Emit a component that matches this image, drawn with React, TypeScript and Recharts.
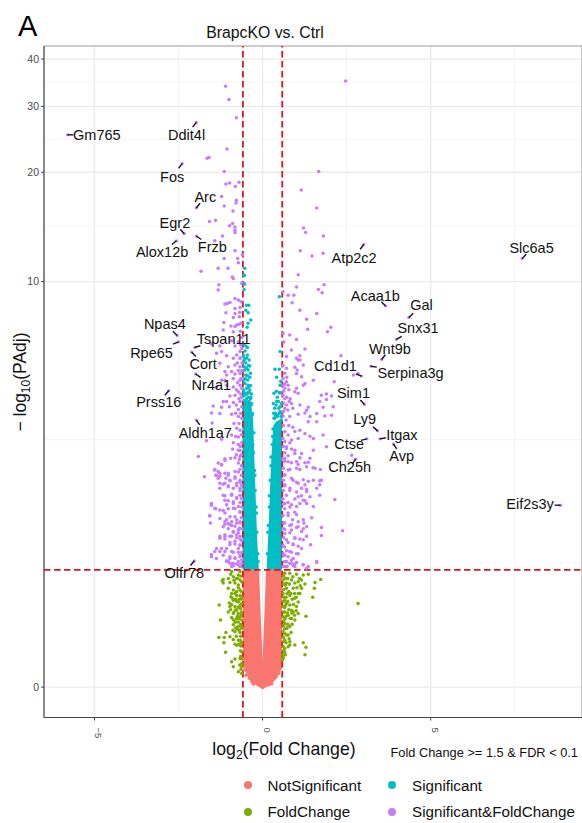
import {
  ComposedChart,
  Area,
  Scatter,
  XAxis,
  YAxis,
  CartesianGrid,
  ReferenceLine,
  ReferenceArea,
  Legend,
} from 'recharts';

const FONT = '"Liberation Sans", Arial, sans-serif';

const seriesNames = ['NotSignificant', 'Significant', 'FoldChange', 'Significant&FoldChange'];
const seriesColors = ['#F8766D', '#00BFC4', '#7CAE00', '#C77CFF'];

const xTicks = [-5, 0, 5];
const yTicks = [0, 10, 20, 30, 40];
const xMinor = [-2.5, 2.5, 7.5];
const yMinor = [3.32, 14.3, 24.5, 34.8];

// dense part of the cloud, read as an envelope (x, lower, upper)
const notSigX = [-0.58, -0.53, -0.38, -0.16, -0.1, -0.08, -0.06, -0.04, -0.02, 0, 0.02, 0.04, 0.06, 0.08, 0.1, 0.22, 0.42, 0.58];
const notSigLow = [0.17, 0.106, 0.042, 0.006, 0, -0.003, -0.006, -0.009, -0.011, -0.013, -0.011, -0.009, -0.006, -0.003, 0, 0.006, 0.054, 0.12];
const notSigHigh = [1, 1, 1, 1, 1, 0.74, 0.576, 0.426, 0.297, 0.16, 0.297, 0.426, 0.576, 0.74, 1, 1, 1, 1];

const sigLeftX = [-0.6, -0.35, -0.28, -0.25, -0.2, -0.16, -0.11];
const sigLeftHigh = [4.5, 4.4, 3.85, 3.0, 2.0, 1.4, 1.0];
const sigRightX = [0.12, 0.19, 0.22, 0.27, 0.32, 0.4, 0.58];
const sigRightHigh = [1.0, 1.69, 2.2, 3.0, 3.7, 3.8, 3.9];

const notSigPoints = [
  [-0.55, 0.106], [-0.49, 0.073], [-0.39, 0.053], [-0.32, 0.032], [-0.27, 0.018],
  [0.4, 0.063], [0.47, 0.084], [0.27, 0.018],
];

const sigPoints = [
  [-0.56, 10.45], [-0.53, 9.85], [-0.53, 10.9], [-0.54, 10.4], [-0.55, 9.5], [-0.48, 8.57], [-0.41, 8.57],
  [-0.5, 8.29], [-0.43, 8.15], [-0.35, 7.76], [-0.43, 7.6], [-0.46, 7.4], [-0.5, 6.52], [-0.45, 6.13],
  [-0.4, 5.92], [-0.53, 5.99], [-0.38, 5.68], [-0.55, 5.65], [-0.43, 5.52], [-0.5, 5.33], [-0.38, 5.25],
  [-0.52, 5.02], [-0.41, 4.9], [-0.56, 4.79], [-0.33, 4.66], [-0.46, 4.52], [-0.53, 5.52], [-0.56, 5.14],
  [-0.43, 4.96], [-0.38, 4.79], [-0.5, 4.68], [-0.4, 4.41], [-0.33, 4.35], [-0.53, 4.41], [-0.46, 4.25],
  [-0.38, 4.14], [-0.56, 4.19], [-0.3, 4.04], [-0.33, 3.6], [-0.29, 3.2], [-0.24, 2.6], [-0.19, 1.9],
  [-0.26, 3.5], [-0.27, 3.0], [-0.23, 2.5], [-0.22, 2.2], [-0.18, 1.8], [-0.17, 1.5], [-0.14, 1.2], [-0.13, 1.1],
  [-0.31, 4.0], [-0.34, 4.3], [-0.36, 4.5], [-0.55, 4.6], [-0.48, 4.65], [-0.42, 4.55],
  [-0.55, 4.7], [-0.47, 4.85], [-0.4, 4.7], [-0.52, 5.2], [-0.45, 5.3], [-0.48, 5.6], [-0.42, 5.7], [-0.55, 5.9],
  [-0.47, 6.0], [-0.5, 5.8], [-0.44, 5.15], [-0.36, 4.95], [-0.35, 4.55], [-0.57, 6.1], [-0.52, 6.3], [-0.45, 6.45],
  [-0.56, 6.6], [-0.5, 4.45], [-0.44, 4.7], [-0.36, 5.4],
  [0.5, 9.05], [0.52, 6.27], [0.37, 5.55], [0.5, 5.55], [0.42, 5.25], [0.52, 4.96], [0.34, 4.68],
  [0.52, 4.7], [0.42, 4.41], [0.32, 4.35], [0.52, 4.25], [0.47, 4.41], [0.4, 4.3], [0.34, 3.9],
  [0.56, 3.85], [0.3, 3.4], [0.25, 2.9], [0.2, 2.1], [0.16, 1.5], [0.14, 1.2], [0.17, 1.6], [0.2, 1.9],
  [0.23, 2.4], [0.25, 2.7], [0.29, 3.2], [0.31, 3.6], [0.36, 3.9], [0.44, 3.95], [0.5, 4.05], [0.55, 3.95],
  [0.45, 4.0], [0.38, 4.05], [0.52, 4.1], [0.56, 4.35], [0.48, 4.2], [0.36, 4.2], [0.44, 4.55], [0.5, 4.7],
  [0.54, 5.1], [0.41, 4.75], [0.38, 3.98], [0.33, 4.05],
];

const foldPoints = [
  [-1.17, 0.89], [-1.2, 0.876], [-1.17, 0.85], [-1.02, 0.9], [-0.87, 0.92], [-0.72, 0.94], [-0.67, 0.883],
  [-0.97, 0.855], [-0.82, 0.85], [-0.72, 0.83], [-0.62, 0.865], [-0.87, 0.775], [-0.67, 0.775], [-0.92, 0.74],
  [-0.77, 0.72], [-0.62, 0.705], [-0.87, 0.672], [-0.72, 0.655], [-0.62, 0.64], [-0.97, 0.61], [-0.82, 0.61],
  [-0.65, 0.59], [-1.29, 0.625], [-1.02, 0.56], [-0.87, 0.546], [-0.72, 0.546], [-0.92, 0.51], [-0.77, 0.5],
  [-0.62, 0.486], [-1.25, 0.486], [-0.87, 0.445], [-0.72, 0.43], [-0.62, 0.415], [-0.82, 0.387], [-0.67, 0.38],
  [-1.09, 0.38], [-0.97, 0.347], [-1.3, 0.34], [-1.14, 0.34], [-0.87, 0.325], [-0.72, 0.32], [-1.15, 0.3],
  [-0.82, 0.288], [-0.65, 0.275], [-0.62, 0.232], [-1.1, 0.228], [-0.67, 0.185], [-0.82, 0.18], [-0.92, 0.162],
  [-0.87, 0.127], [-0.62, 0.127], [-0.72, 0.095], [-0.62, 0.084], [-0.77, 0.76], [-1.02, 0.795], [-0.94, 0.705],
  [-0.82, 0.47], [-0.69, 0.68], [-0.99, 0.645], [-0.77, 0.576], [-0.62, 0.56], [-0.67, 0.98], [-0.92, 0.98],
  [-0.72, 0.8], [-0.82, 0.74], [-0.67, 0.72], [-0.9, 0.69], [-0.77, 0.66], [-0.67, 0.62], [-0.92, 0.63],
  [-0.8, 0.58], [-0.68, 0.6], [-0.95, 0.58], [-0.75, 0.52], [-0.65, 0.52], [-0.87, 0.49], [-0.72, 0.47],
  [-0.65, 0.45], [-0.8, 0.42], [-0.7, 0.4], [-0.65, 0.35], [-0.78, 0.35], [-0.7, 0.29], [-0.62, 0.3],
  [-0.66, 0.24], [-0.62, 0.18], [-0.62, 0.15], [-0.64, 0.11], [-0.95, 0.95], [-0.78, 0.9], [-0.65, 0.93], [-0.85, 0.88],
  [-0.74, 0.9], [-0.63, 0.76], [-0.8, 0.68], [-0.63, 0.68], [-0.72, 0.6], [-0.85, 0.56], [-0.63, 0.54], [-0.7, 0.5],
  [-0.8, 0.47], [-0.63, 0.43], [-0.75, 0.41], [-0.88, 0.4], [-0.66, 0.32], [-0.76, 0.28], [-0.65, 0.2], [-0.68, 0.14],
  [0.66, 0.96], [0.81, 0.96], [1.01, 0.95], [1.21, 0.94], [1.36, 0.95], [0.61, 0.883], [0.86, 0.883],
  [1.06, 0.865], [1.16, 0.883], [1.26, 0.84], [0.71, 0.795], [0.91, 0.795], [1.16, 0.795], [0.61, 0.74],
  [0.81, 0.72], [1.06, 0.74], [0.66, 0.672], [0.96, 0.69], [1.06, 0.655], [0.61, 0.61], [0.81, 0.625],
  [1.01, 0.61], [0.66, 0.56], [0.91, 0.56], [1.06, 0.546], [0.61, 0.515], [0.86, 0.5], [0.96, 0.486],
  [0.66, 0.458], [0.81, 0.43], [0.61, 0.387], [0.76, 0.36], [0.66, 0.32], [0.81, 0.307], [0.96, 0.283],
  [1.29, 0.52], [1.56, 0.855], [1.73, 0.89], [1.54, 0.795], [1.49, 0.7], [1.21, 0.3], [1.29, 0.265],
  [1.26, 0.21], [0.66, 0.257], [0.61, 0.21], [0.59, 0.173], [0.71, 0.64], [0.76, 0.53], [0.86, 0.576],
  [0.71, 0.415], [0.71, 0.85], [0.96, 0.85], [1.11, 0.74], [0.81, 0.283], [2.84, 0.64],
  [0.63, 0.93], [0.75, 0.9], [0.9, 0.92], [1.1, 0.9], [0.68, 0.83], [0.8, 0.84], [1.02, 0.8], [1.12, 0.82],
  [0.63, 0.78], [0.78, 0.76], [0.95, 0.74], [0.7, 0.7], [0.88, 0.68], [1.0, 0.7], [0.62, 0.66], [0.75, 0.66],
  [0.92, 0.63], [0.66, 0.6], [0.78, 0.58], [1.0, 0.57], [0.7, 0.52], [0.82, 0.5], [0.95, 0.53], [0.63, 0.48],
  [0.75, 0.45], [0.88, 0.45], [0.65, 0.41], [0.72, 0.36], [0.85, 0.38], [0.62, 0.34], [0.7, 0.3], [0.76, 0.27],
  [0.62, 0.27], [0.62, 0.24], [0.68, 0.21], [0.62, 0.19],
  [0.68, 0.9], [0.63, 0.84], [0.73, 0.74], [0.63, 0.7], [0.84, 0.74], [0.68, 0.62], [0.63, 0.56], [0.74, 0.55],
  [0.87, 0.55], [0.67, 0.5], [0.73, 0.42], [0.63, 0.44], [0.79, 0.33], [0.66, 0.37], [0.63, 0.31], [0.66, 0.23],
];

const bothPoints = [
  // upper left
  [-1.1, 33.9], [-1.0, 31.3], [-0.78, 28.0], [-1.06, 23.1], [-1.65, 21.8], [-1.59, 21.9], [-1.14, 20.1],
  [-1.09, 18.6], [-0.98, 18.7], [-0.81, 18.3], [-0.7, 18.8], [-1.22, 17.2], [-0.78, 16.8], [-0.79, 16.5],
  [-1.14, 16.2], [-0.88, 15.7], [-1.58, 14.7], [-1.4, 14.8], [-0.89, 14.5], [-0.98, 14.3], [-0.82, 14.2],
  [-0.82, 13.9], [-0.82, 13.7], [-1.19, 13.4], [-1.42, 13.0], [-0.82, 12.2], [-0.6, 11.9], [-1.14, 11.6],
  [-0.74, 11.6], [-0.72, 11.3], [-1.32, 10.9], [-1.03, 10.9],
  // upper right
  [2.47, 35.0], [1.67, 20.1], [1.15, 17.9], [1.61, 16.0], [1.22, 14.1], [1.28, 13.7], [1.81, 13.4],
  [1.12, 12.2], [1.47, 11.8], [1.8, 12.0],
  // left, 4 to 10
  [-1.83, 10.7], [-1.3, 9.8], [-1.32, 9.46], [-0.9, 10.3], [-0.87, 10.2], [-0.62, 9.9], [-0.82, 8.95],
  [-0.72, 8.86], [-0.97, 8.72], [-1.12, 8.63], [-1.05, 8.67], [-0.64, 8.76], [-1.09, 8.15], [-0.82, 8.38],
  [-0.67, 8.44], [-0.82, 8.11], [-0.68, 8.17], [-0.87, 7.89], [-0.69, 7.94], [-1.15, 7.63], [-0.77, 7.51],
  [-0.7, 7.55], [-0.64, 7.6], [-0.94, 7.46], [-0.82, 7.43], [-1.17, 7.26], [-0.87, 7.18], [-1.52, 6.6],
  [-1.27, 6.52], [-0.92, 6.75], [-0.72, 6.7], [-0.82, 6.52], [-0.65, 6.56], [-1.22, 6.27], [-1.37, 6.2],
  [-0.67, 6.27], [-0.77, 6.13], [-1.07, 6.09], [-0.87, 5.99], [-0.67, 5.99], [-1.27, 5.79], [-1.02, 5.65],
  [-0.82, 5.72], [-0.67, 5.65], [-1.12, 5.46], [-0.92, 5.46], [-1.07, 5.33], [-0.82, 5.37], [-0.67, 5.39],
  [-1.22, 5.14], [-1.12, 5.14], [-0.87, 5.2], [-0.67, 5.14], [-1.37, 4.9], [-1.07, 4.96], [-0.87, 4.9],
  [-0.67, 4.96], [-0.72, 4.73], [-0.97, 4.59], [-0.82, 4.62], [-0.65, 4.66], [-1.47, 4.27], [-1.22, 4.23],
  [-1.07, 4.41], [-0.87, 4.38], [-0.67, 4.41], [-1.52, 4.06], [-1.27, 4.04], [-0.92, 4.02], [-0.72, 4.16],
  [-0.65, 4.04], [-1.17, 4.41], [-0.99, 4.25], [-0.72, 3.95],
  [-0.62, 6.9], [-0.66, 7.2], [-0.62, 6.4], [-0.66, 6.0], [-0.61, 5.8], [-0.75, 5.8], [-0.72, 5.5], [-0.62, 5.5],
  [-0.64, 5.2], [-0.74, 5.05], [-0.62, 4.85], [-0.78, 4.8], [-0.62, 4.55], [-0.7, 4.5], [-0.78, 4.3], [-0.62, 4.25],
  [-0.8, 4.05], [-0.62, 3.9],
  // right, 4 to 10
  [1.06, 10.45], [1.83, 9.8], [1.01, 9.65], [1.66, 9.5], [1.77, 9.3], [0.76, 9.15], [0.93, 9.15], [0.61, 9.36],
  [0.88, 8.7], [1.11, 8.29], [1.61, 8.11], [1.31, 7.8], [2.03, 7.4], [1.93, 7.18], [1.34, 7.3], [0.61, 7.1],
  [0.81, 7.02], [0.63, 6.7], [1.01, 6.81], [1.26, 6.38], [0.71, 6.06], [1.01, 5.99], [1.11, 6.09], [1.06, 5.92],
  [0.86, 6.34], [1.11, 5.92], [0.96, 5.63], [1.03, 5.52], [1.21, 5.72], [0.71, 5.59], [1.16, 5.27], [1.26, 5.02],
  [1.21, 4.96], [1.51, 5.14], [1.01, 5.39], [0.71, 5.08], [0.61, 4.96], [0.76, 4.96], [0.66, 4.85], [1.01, 4.85],
  [0.96, 4.73], [1.06, 4.68], [0.61, 4.62], [0.79, 4.41], [0.71, 4.3], [0.66, 4.19], [0.86, 4.35], [1.11, 4.3],
  [1.36, 4.23], [1.26, 4.06], [1.31, 4.14], [1.75, 4.62], [1.9, 4.66], [2.05, 4.59], [1.9, 4.48], [1.7, 4.41],
  [1.8, 4.23], [2.1, 4.25], [1.85, 3.97], [2.05, 3.99], [2.13, 5.08], [2.33, 6.09], [2.7, 5.33], [2.84, 5.39],
  [1.41, 3.95], [0.61, 3.97], [0.81, 3.95], [1.06, 4.02], [1.61, 4.04],
  [0.61, 5.7], [0.66, 5.4], [0.61, 5.2], [0.72, 5.25], [0.66, 5.0], [0.78, 4.8], [0.62, 4.75], [0.72, 4.55],
  [0.66, 4.5], [0.82, 4.5], [0.62, 4.35], [0.75, 4.15], [0.62, 4.1], [0.9, 4.2],
  // left, 1 to 4
  [-1.91, 2.91], [-1.73, 2.47], [-1.67, 3.29], [-1.5, 3.77], [-1.22, 3.33], [-0.92, 3.44], [-0.77, 3.62],
  [-1.12, 2.82], [-0.95, 2.87], [-1.32, 2.76], [-1.22, 2.72], [-1.42, 2.61], [-1.27, 2.54], [-1.37, 2.5],
  [-1.32, 2.44], [-1.12, 2.54], [-1.02, 2.5], [-0.97, 2.4], [-1.27, 2.34], [-1.12, 2.34], [-0.72, 2.76],
  [-0.67, 2.91], [-0.72, 3.06], [-0.62, 3.24], [-0.72, 3.39], [-0.67, 3.57], [-0.72, 2.57], [-0.82, 2.47],
  [-0.67, 2.4], [-0.77, 2.34], [-1.27, 2.24], [-1.02, 2.27], [-0.87, 2.24], [-0.67, 2.24], [-1.17, 2.11],
  [-1.12, 2.02], [-0.92, 2.11], [-0.77, 2.05], [-0.67, 2.11], [-0.87, 1.99], [-1.07, 1.94], [-1.52, 1.96],
  [-1.42, 1.88], [-1.27, 1.85], [-1.12, 1.8], [-1.57, 1.76], [-1.55, 1.64], [-0.87, 1.88], [-0.72, 1.91],
  [-0.67, 1.82], [-0.97, 1.74], [-0.82, 1.74], [-1.12, 1.66], [-1.02, 1.63], [-0.77, 1.64], [-0.92, 1.6],
  [-0.67, 1.66], [-1.17, 1.58], [-0.87, 1.51], [-0.72, 1.53], [-1.12, 1.46], [-0.97, 1.44], [-0.67, 1.44],
  [-1.27, 1.41], [-1.12, 1.4], [-0.82, 1.37], [-0.77, 1.46], [-0.97, 1.32], [-1.42, 1.23], [-1.27, 1.23],
  [-1.12, 1.23], [-1.52, 1.16], [-0.92, 1.23], [-0.72, 1.27], [-0.67, 1.32], [-0.97, 1.14], [-0.82, 1.15],
  [-0.67, 1.18], [-0.87, 1.08], [-0.72, 1.1], [-1.02, 1.1], [-0.65, 1.04], [-0.92, 1.04],
  [-1.07, 1.11], [-0.97, 1.08], [-0.87, 1.05], [-0.72, 1.06], [-0.62, 1.08],
  [-0.87, 3.24], [-0.72, 3.2], [-0.89, 3.09], [-0.67, 3.05], [-0.82, 2.88], [-0.69, 2.84], [-1.12, 2.86],
  [-1.22, 2.73], [-1.42, 2.62], [-1.32, 2.58], [-1.39, 2.5], [-1.27, 2.48], [-1.02, 2.54], [-0.82, 2.58],
  [-0.67, 2.62], [-1.09, 2.44], [-0.97, 2.39], [-0.82, 2.44], [-0.67, 2.36], [-1.17, 2.32], [-1.02, 2.29],
  [-0.77, 2.29], [-0.67, 2.2], [-1.12, 2.1], [-0.92, 2.13], [-0.77, 2.07], [-1.02, 2.01], [-0.87, 1.96],
  [-0.67, 1.98], [-1.52, 1.93], [-1.39, 1.87], [-1.17, 1.84], [-1.02, 1.87], [-0.82, 1.87], [-0.67, 1.81],
  [-1.57, 1.75], [-1.27, 1.71], [-1.07, 1.69], [-0.92, 1.66], [-0.77, 1.69], [-0.67, 1.64], [-1.12, 1.62],
  [-0.97, 1.61], [-0.82, 1.59], [-0.69, 1.56], [-1.02, 1.55], [-0.87, 1.5], [-0.72, 1.49], [-0.92, 1.44],
  [-0.77, 1.42], [-0.67, 1.4], [-1.27, 1.44], [-1.12, 1.44], [-0.97, 1.35], [-0.82, 1.33], [-0.67, 1.31],
  [-1.37, 1.27], [-1.22, 1.27], [-1.07, 1.27], [-0.87, 1.22], [-0.72, 1.22], [-1.52, 1.19], [-1.17, 1.18],
  [-0.97, 1.16], [-0.82, 1.14], [-0.67, 1.16], [-1.37, 1.14], [-1.07, 1.1], [-0.92, 1.07], [-0.77, 1.07],
  [-0.67, 1.04],
  [-0.85, 3.75], [-0.7, 3.75], [-0.63, 3.45], [-0.8, 3.4], [-0.66, 3.15], [-0.63, 2.95], [-0.78, 2.95], [-0.63, 2.7],
  [-0.63, 2.5], [-0.62, 2.3], [-0.63, 2.05], [-0.62, 1.9], [-0.63, 1.72], [-0.62, 1.55], [-0.63, 1.38], [-0.62, 1.22],
  [-0.62, 1.12],
  // right, 1 to 4
  [1.61, 3.8], [1.36, 3.8], [1.26, 3.48], [1.41, 3.41], [1.8, 3.44], [1.11, 3.57], [0.96, 3.53], [0.76, 3.44],
  [0.66, 3.53], [0.61, 3.35], [0.86, 3.31], [1.06, 3.35], [1.51, 3.35], [1.9, 3.14], [1.51, 3.06], [0.71, 3.1],
  [0.96, 3.06], [1.16, 2.98], [2.65, 2.94], [0.66, 2.87], [0.76, 2.79], [1.01, 2.79], [1.41, 2.87], [1.56, 2.65],
  [1.72, 2.62], [0.76, 2.61], [1.01, 2.65], [1.31, 2.68], [0.66, 2.5], [0.91, 2.4], [1.06, 2.34], [1.26, 2.31],
  [1.51, 2.4], [1.75, 2.4], [1.7, 2.31], [0.66, 2.31], [0.81, 2.24], [1.16, 2.24], [1.31, 2.18], [1.61, 2.24],
  [1.41, 2.08], [1.21, 2.02], [1.06, 2.08], [0.71, 2.11], [1.7, 2.11], [2.15, 2.03], [0.66, 1.96], [0.86, 1.94],
  [1.01, 1.91], [1.31, 1.96], [1.51, 1.91], [0.76, 1.8], [1.01, 1.77], [1.46, 1.72], [1.21, 1.69], [0.66, 1.64],
  [0.86, 1.61], [1.06, 1.58], [1.31, 1.58], [0.66, 1.48], [0.86, 1.53], [1.16, 1.51], [1.75, 1.57], [2.38, 1.52],
  [1.75, 1.45], [0.71, 1.39], [0.96, 1.41], [1.21, 1.39], [0.66, 1.29], [0.91, 1.32], [1.16, 1.27], [0.66, 1.18],
  [0.81, 1.23], [1.06, 1.2], [0.71, 1.1], [0.86, 1.12], [1.21, 1.06], [1.36, 1.04], [0.96, 1.04], [1.61, 1.1],
  [0.66, 1.04], [0.66, 1.1], [0.86, 1.08], [1.01, 1.09], [1.21, 1.06], [1.31, 1.02], [1.61, 1.09], [0.71, 1.04],
  [0.91, 1.05],
  [0.66, 3.27], [0.81, 3.24], [0.71, 3.14], [0.86, 3.09], [0.66, 3.0], [0.96, 2.98], [0.76, 2.93], [1.11, 2.88],
  [0.66, 2.8], [0.86, 2.77], [1.06, 2.73], [1.26, 2.77], [1.36, 2.78], [1.11, 2.62], [0.81, 2.62], [1.5, 2.66],
  [0.66, 2.51], [0.86, 2.44], [1.01, 2.36], [1.21, 2.41], [1.36, 2.38], [1.7, 2.39], [0.66, 2.29], [0.81, 2.2],
  [1.01, 2.17], [1.16, 2.1], [1.31, 2.22], [0.61, 2.04], [0.76, 1.98], [0.96, 2.04], [1.11, 1.96], [1.26, 2.01],
  [0.66, 1.87], [0.81, 1.9], [0.96, 1.81], [0.61, 1.76], [0.76, 1.76], [0.89, 1.69], [1.06, 1.66], [1.23, 1.64],
  [0.63, 1.64], [0.81, 1.6], [1.01, 1.57], [1.21, 1.55], [0.66, 1.54], [0.81, 1.49], [0.63, 1.42], [0.96, 1.42],
  [1.11, 1.4], [1.31, 1.44], [0.76, 1.35], [0.91, 1.33], [0.61, 1.31], [1.06, 1.3], [1.43, 1.32], [0.71, 1.24],
  [0.86, 1.22], [1.01, 1.2], [0.63, 1.18], [0.76, 1.16], [0.91, 1.14], [0.66, 1.1], [0.81, 1.08], [0.96, 1.07],
  [0.61, 1.04], [0.73, 1.04],
  [0.7, 3.85], [0.78, 3.7], [0.62, 3.7], [0.9, 3.65], [0.62, 3.15], [0.62, 2.85], [0.62, 2.65], [0.62, 2.4],
  [0.62, 2.2], [0.62, 1.95], [0.62, 1.55], [0.62, 1.2],
];

const geneNames = [
  'Gm765', 'Ddit4l', 'Fos', 'Arc', 'Egr2', 'Alox12b', 'Frzb', 'Npas4', 'Rpe65', 'Tspan11', 'Cort', 'Nr4a1',
  'Prss16', 'Aldh1a7', 'Olfr78', 'Atp2c2', 'Slc6a5', 'Acaa1b', 'Gal', 'Snx31', 'Wnt9b', 'Cd1d1', 'Serpina3g',
  'Sim1', 'Ly9', 'Itgax', 'Ctse', 'Avp', 'Ch25h', 'Eif2s3y',
];
const geneX = [
  -5.8, -1.97, -2.39, -1.97, -2.33, -2.56, -1.97, -2.54, -2.5, -2.02, -2.11, -1.99, -2.79, -1.97, -2.03, 3.01,
  7.72, 3.66, 4.35, 3.98, 3.54, 2.94, 3.22, 3.03, 3.42, 3.49, 3.1, 3.89, 2.77, 8.86,
];
const geneY = [
  25.2, 27.2, 21.1, 16.0, 13.6, 13.0, 13.4, 7.0, 6.7, 6.45, 6.25, 5.37, 4.77, 3.85, 1.11, 12.7, 11.6, 8.52, 7.9,
  6.82, 5.94, 5.29, 5.67, 4.32, 3.55, 3.34, 3.34, 3.21, 2.85, 1.93,
];
// repel offsets of each label from its gene, in px
const labelDx = [
  29.3, -9.7, -10, 9, -9.3, -14.4, 16, -12.3, -27, 29, 11.6, 15.7, -10, 9, -10, -9.7, 9.4, -10.3, 12.7, 21.6, 8.3,
  -26, 39.7, -11, -13, 22, -17.7, 8.3, -6, -30.4,
];
const labelDy = [
  0.5, 12.7, 13, -11.3, -10.6, 11.6, 11.3, -11.7, 11, -8.6, 12, 11, 11.6, 12.7, 12, 13, -10.3, -10, -12, -11.6,
  -10.3, -10.3, 6.7, -11.6, -11.7, -4.3, 4.7, 12, 8.3, -1,
];

const toXY = (pts: number[][]) => pts.map(([x, y]) => ({ x, y }));
const notSigArea = notSigX.map((x, i) => ({ x, range: [notSigLow[i], notSigHigh[i]] }));
const sigLeftArea = sigLeftX.map((x, i) => ({ x, range: [1, sigLeftHigh[i]] }));
const sigRightArea = sigRightX.map((x, i) => ({ x, range: [1, sigRightHigh[i]] }));
const genes = geneNames.map((name, i) => ({ name, x: geneX[i], y: geneY[i] }));

const dot = (color: string) => (p: any) => <circle cx={p.cx} cy={p.cy} r={1.75} fill={color} />;

const GeneMark = (p: any) => {
  const i = geneNames.indexOf(p.payload.name);
  const dx = labelDx[i];
  const dy = labelDy[i];
  const len = Math.hypot(dx, dy);
  return (
    <g>
      <circle cx={p.cx} cy={p.cy} r={1.6} fill="#C77CFF" />
      <line x1={p.cx} y1={p.cy} x2={p.cx + (dx / len) * 6} y2={p.cy + (dy / len) * 6} stroke="#16101f" strokeWidth={1.4} />
      <text x={p.cx + dx} y={p.cy + dy} dy="0.35em" textAnchor="middle" fontSize={14.5} fontFamily={FONT} fill="#111">
        {p.payload.name}
      </text>
    </g>
  );
};

const RotatedTick = ({ x, y, payload }: any) => (
  <text
    transform={`translate(${x + 1},${y + 5}) rotate(90)`}
    fontSize={9.5}
    fontFamily={FONT}
    fill="#4d4d4d"
  >
    {payload.value < 0 ? `\u2212${Math.abs(payload.value)}` : payload.value}
  </text>
);

const renderLegend = () => (
  <div
    style={{
      display: 'grid',
      gridTemplateColumns: '144.5px 170px',
      rowGap: 8,
      fontFamily: FONT,
      fontSize: 15.2,
      color: '#111',
    }}
  >
    {[0, 1, 2, 3].map((i) => (
      <div key={i} style={{ display: 'flex', alignItems: 'center', height: 18.5, whiteSpace: 'nowrap' }}>
        <svg width={24} height={10} style={{ flexShrink: 0 }}>
          <circle cx={4} cy={5} r={4} fill={seriesColors[i]} />
        </svg>
        {seriesNames[i]}
      </div>
    ))}
  </div>
);

export default function App() {
  return (
    <div style={{ position: 'absolute', left: 0, top: 0, width: 582, height: 823, background: '#fff' }}>
      <ComposedChart width={582} height={823} margin={{ top: 46, right: 0, bottom: 29.5, left: 0 }}>
        <CartesianGrid horizontalValues={yMinor} verticalValues={xMinor} stroke="#f2f2f2" strokeWidth={0.8} />
        <CartesianGrid horizontalValues={yTicks} verticalValues={[-5, 0, 5]} stroke="#ebebeb" strokeWidth={1.3} />
        <XAxis
          dataKey="x"
          type="number"
          domain={[-6.5, 9.5]}
          ticks={xTicks}
          allowDataOverflow
          height={30}
          tick={RotatedTick}
          tickSize={3}
          axisLine={{ stroke: '#444' }}
          tickLine={{ stroke: '#444' }}
          interval={0}
        />
        <YAxis
          dataKey="y"
          type="number"
          scale="symlog"
          domain={[-0.197, 43.3]}
          ticks={yTicks}
          allowDataOverflow
          width={44}
          tick={{ fontSize: 10.5, fill: '#4d4d4d', fontFamily: FONT }}
          tickSize={3}
          axisLine={{ stroke: '#444' }}
          tickLine={{ stroke: '#444' }}
          interval={0}
        />

        <Scatter data={toXY(foldPoints)} shape={dot(seriesColors[2])} isAnimationActive={false} />
        <Scatter data={toXY(bothPoints)} shape={dot(seriesColors[3])} isAnimationActive={false} />
        <Area data={notSigArea} dataKey="range" type="linear" fill={seriesColors[0]} fillOpacity={1} stroke="none" dot={false} activeDot={false} isAnimationActive={false} />
        <Scatter data={toXY(notSigPoints)} shape={dot(seriesColors[0])} isAnimationActive={false} />
        <Area data={sigLeftArea} dataKey="range" type="linear" fill={seriesColors[1]} fillOpacity={1} stroke="none" dot={false} activeDot={false} isAnimationActive={false} />
        <Area data={sigRightArea} dataKey="range" type="linear" fill={seriesColors[1]} fillOpacity={1} stroke="none" dot={false} activeDot={false} isAnimationActive={false} />
        <Scatter data={toXY(sigPoints)} shape={dot(seriesColors[1])} isAnimationActive={false} />

        <ReferenceLine x={-0.585} stroke="#e3121e" strokeWidth={1.8} strokeDasharray="6.5 3.5" />
        <ReferenceLine x={0.585} stroke="#e3121e" strokeWidth={1.8} strokeDasharray="6.5 3.5" />
        <ReferenceLine y={1} stroke="#e3121e" strokeWidth={1.8} strokeDasharray="6.5 3.5" />
        <Scatter data={genes} shape={GeneMark} isAnimationActive={false} />
        <ReferenceArea x1={-6.5} x2={9.5} y1={-0.197} y2={43.3} fill="none" stroke="#999" strokeWidth={1} ifOverflow="visible" />

        <Legend
          content={renderLegend}
          wrapperStyle={{ position: 'absolute', left: 243.5, top: 776, width: 330, height: 46, bottom: 'auto' }}
        />

        <text x={18} y={36} fontSize={29} fontFamily={FONT} fill="#000">A</text>
        <text x={265} y={38} textAnchor="middle" fontSize={15.8} fontFamily={FONT} fill="#111">BrapcKO vs. Ctrl</text>
        <text x={284} y={755} textAnchor="middle" fontSize={17.7} fontFamily={FONT} fill="#111">
          log<tspan fontSize={12} dy={4}>2</tspan><tspan dy={-4}>(Fold Change)</tspan>
        </text>
        <text x={578} y={757} textAnchor="end" fontSize={12.8} fontFamily={FONT} fill="#111">
          {'Fold Change >= 1.5 & FDR < 0.1'}
        </text>
        <text transform="translate(26,382) rotate(-90)" textAnchor="middle" fontSize={17.5} fontFamily={FONT} fill="#111">
          {'\u2212 log'}<tspan fontSize={12} dy={4}>10</tspan><tspan dy={-4}>(PAdj)</tspan>
        </text>
      </ComposedChart>
    </div>
  );
}
